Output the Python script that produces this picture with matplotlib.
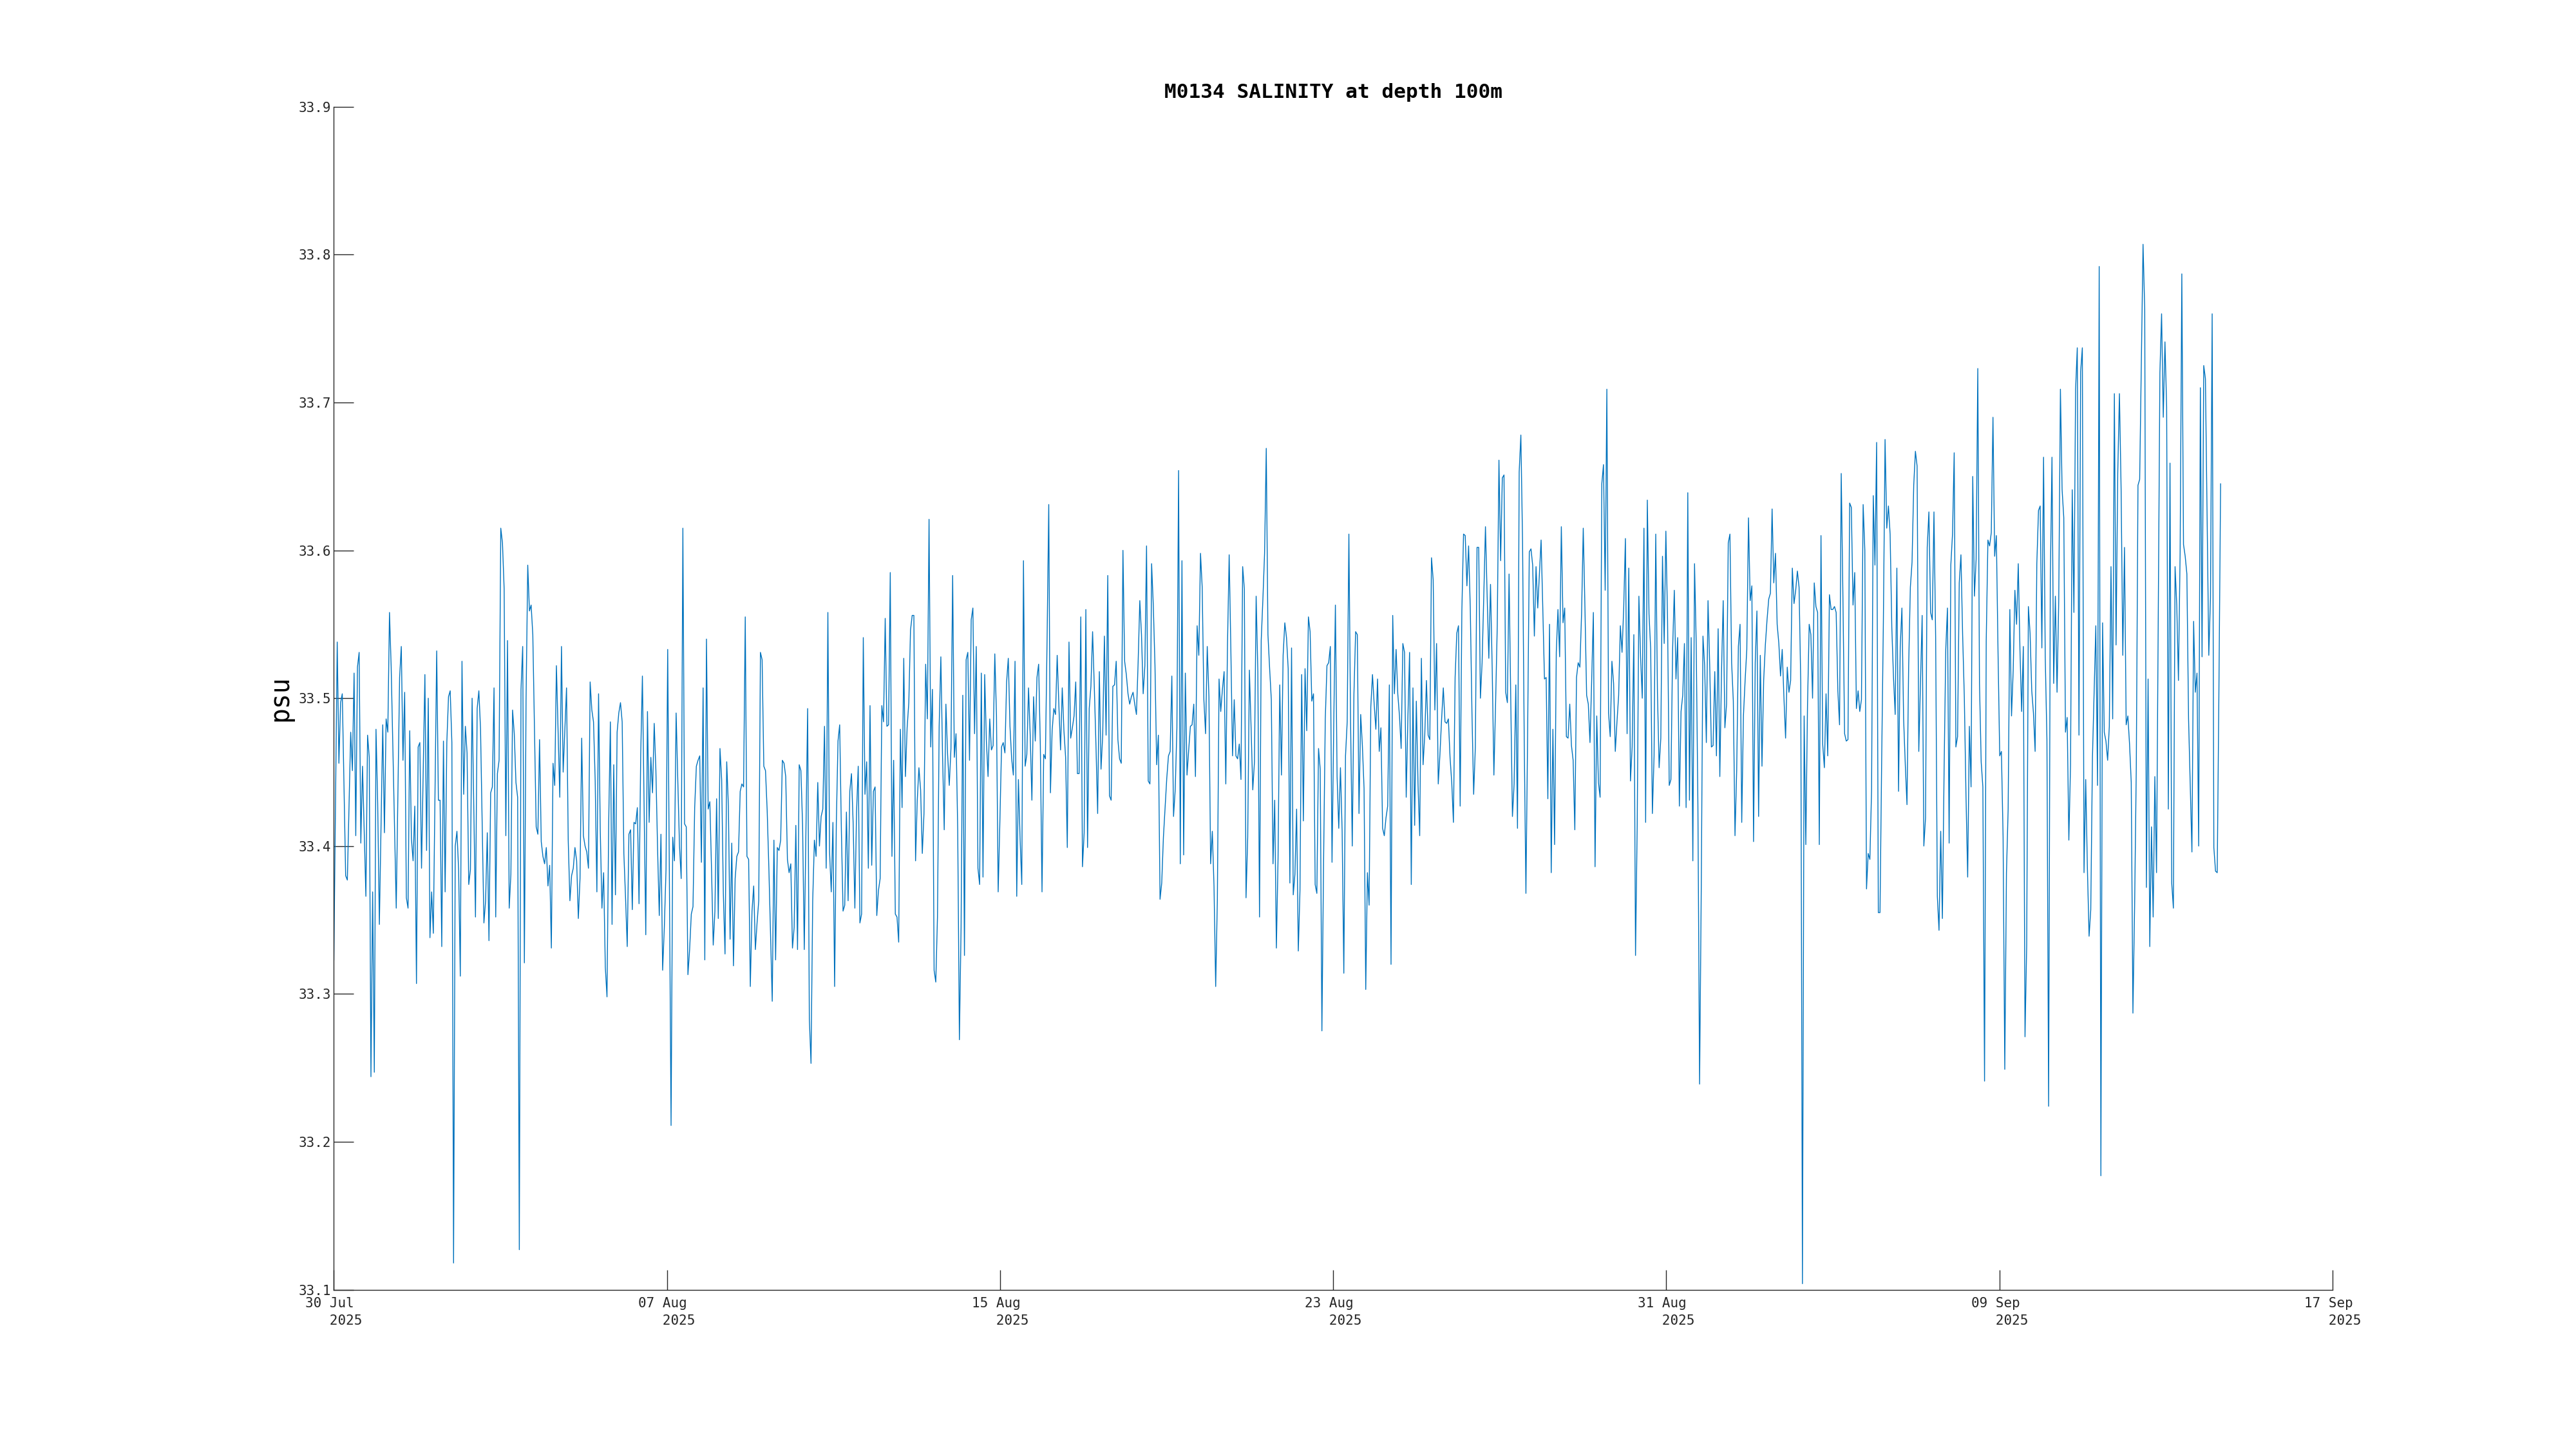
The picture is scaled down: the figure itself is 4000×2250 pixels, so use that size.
import numpy as np
import matplotlib
matplotlib.use("Agg")
import matplotlib.pyplot as plt

# ─────────────────────────────────────────────
# DATA  (hourly salinity, hours counted from 30 Jul 2025 00:00)
# ─────────────────────────────────────────────
TITLE = "M0134 SALINITY at depth 100m"
Y_LABEL = "psu"
DATE_LABELS = ["30 Jul", "07 Aug", "15 Aug", "23 Aug", "31 Aug", "09 Sep", "17 Sep"]
YEAR = "2025"
TICK_STEP_DAYS = 8.232
Y_TICKS = [33.1, 33.2, 33.3, 33.4, 33.5, 33.6, 33.7, 33.8, 33.9]

# first days: only the visible vertices were read
hours_wk1 = [0, 2, 3, 4, 5, 7, 8, 10, 11, 12, 13, 14, 15, 16, 17, 19, 20, 21, 22, 23,
             24, 25, 26, 27, 29, 30, 31, 32, 33, 34, 37, 39, 40, 41, 42, 43, 44, 45, 46, 47,
             48, 49, 50, 51, 52, 54, 55, 56, 57, 58, 59, 61, 62, 63, 64, 65, 66, 67, 68, 69,
             70, 71, 72, 73, 74, 75, 76, 77, 78, 79, 80, 81, 82, 84, 85, 86, 87, 89, 90, 91,
             92, 93, 94, 95, 96, 97, 98, 99, 100, 101, 102, 103, 104, 105, 106, 107, 108, 109, 110, 111,
             112, 113, 114, 115, 116, 117, 118, 120, 121, 122, 123, 124, 125, 126, 127, 128, 129, 130, 131, 132,
             134, 135, 136, 138, 139, 140]
sal_wk1 = [33.323, 33.538, 33.456, 33.497, 33.503, 33.380, 33.377, 33.477, 33.451, 33.517,
           33.407, 33.521, 33.531, 33.402, 33.454, 33.366, 33.475, 33.460, 33.244, 33.369,
           33.247, 33.479, 33.429, 33.347, 33.482, 33.409, 33.486, 33.477, 33.558, 33.521,
           33.358, 33.514, 33.535, 33.458, 33.504, 33.365, 33.358, 33.478, 33.405, 33.390,
           33.427, 33.307, 33.467, 33.470, 33.385, 33.516, 33.397, 33.500, 33.338, 33.369,
           33.341, 33.532, 33.431, 33.431, 33.332, 33.471, 33.369, 33.470, 33.501, 33.505,
           33.470, 33.118, 33.400, 33.410, 33.384, 33.312, 33.525, 33.435, 33.481, 33.463,
           33.374, 33.384, 33.500, 33.352, 33.493, 33.505, 33.479, 33.348, 33.363, 33.409,
           33.336, 33.436, 33.440, 33.507, 33.352, 33.449, 33.458, 33.615, 33.605, 33.574,
           33.407, 33.539, 33.358, 33.381, 33.492, 33.476, 33.443, 33.433, 33.127, 33.506,
           33.535, 33.321, 33.499, 33.590, 33.559, 33.563, 33.543, 33.413, 33.408, 33.472,
           33.403, 33.393, 33.388, 33.399, 33.373, 33.387, 33.331, 33.456, 33.441, 33.522,
           33.433, 33.535, 33.450, 33.507, 33.404, 33.363]

# from hour 141 on every hourly value was read, in blocks of ~6 days
start_wk2 = 141
sal_wk2 = [33.380, 33.385, 33.399, 33.390, 33.351, 33.378, 33.473, 33.407, 33.400, 33.396,
           33.385, 33.511, 33.492, 33.484, 33.444, 33.369, 33.503, 33.411, 33.358, 33.382,
           33.318, 33.298, 33.415, 33.484, 33.347, 33.455, 33.367, 33.477, 33.490, 33.497,
           33.484, 33.395, 33.365, 33.332, 33.408, 33.411, 33.357, 33.416, 33.415, 33.426,
           33.361, 33.462, 33.515, 33.427, 33.340, 33.491, 33.416, 33.460, 33.436, 33.483,
           33.451, 33.398, 33.353, 33.408, 33.316, 33.345, 33.384, 33.533, 33.378, 33.211,
           33.406, 33.390, 33.490, 33.444, 33.400, 33.378, 33.615, 33.415, 33.413, 33.313,
           33.330, 33.354, 33.359, 33.426, 33.454, 33.458, 33.461, 33.389, 33.507, 33.323,
           33.540, 33.425, 33.430, 33.384, 33.333, 33.356, 33.432, 33.351, 33.466, 33.445,
           33.368, 33.327, 33.457, 33.427, 33.337, 33.402, 33.319, 33.378, 33.393, 33.396,
           33.437, 33.442, 33.440, 33.555, 33.393, 33.391, 33.305, 33.356, 33.373, 33.330,
           33.348, 33.363, 33.531, 33.526, 33.454, 33.451, 33.424, 33.385, 33.340, 33.295,
           33.404, 33.323, 33.399, 33.397, 33.404, 33.458, 33.456, 33.447, 33.391, 33.382,
           33.388, 33.331, 33.345, 33.414, 33.330, 33.455, 33.451, 33.414, 33.330, 33.411,
           33.493, 33.283]

start_wk3 = 283
sal_wk3 = [33.253, 33.363, 33.404, 33.393, 33.443, 33.400, 33.420, 33.425, 33.481, 33.385,
           33.558, 33.396, 33.369, 33.416, 33.305, 33.415, 33.471, 33.482, 33.411, 33.356,
           33.360, 33.423, 33.363, 33.437, 33.449, 33.415, 33.358, 33.423, 33.454, 33.348,
           33.354, 33.541, 33.435, 33.457, 33.385, 33.495, 33.387, 33.437, 33.440, 33.353,
           33.370, 33.378, 33.495, 33.484, 33.554, 33.481, 33.482, 33.585, 33.393, 33.458,
           33.354, 33.352, 33.335, 33.479, 33.426, 33.527, 33.447, 33.480, 33.497, 33.546,
           33.556, 33.556, 33.390, 33.431, 33.453, 33.438, 33.395, 33.422, 33.523, 33.486,
           33.621, 33.467, 33.506, 33.316, 33.308, 33.352, 33.481, 33.528, 33.462, 33.411,
           33.496, 33.462, 33.441, 33.466, 33.583, 33.460, 33.476, 33.411, 33.269, 33.345,
           33.502, 33.326, 33.526, 33.531, 33.458, 33.553, 33.561, 33.476, 33.535, 33.385,
           33.374, 33.517, 33.379, 33.516, 33.471, 33.447, 33.486, 33.465, 33.468, 33.530,
           33.488, 33.369, 33.416, 33.467, 33.470, 33.463, 33.511, 33.527, 33.481, 33.459,
           33.448, 33.525, 33.366, 33.445, 33.405, 33.374, 33.593, 33.454, 33.462, 33.507,
           33.475, 33.431, 33.501, 33.471, 33.514, 33.523, 33.468, 33.369, 33.462, 33.459,
           33.539, 33.631]

start_wk4 = 425
sal_wk4 = [33.436, 33.478, 33.493, 33.489, 33.529, 33.495, 33.465, 33.507, 33.478, 33.460,
           33.399, 33.538, 33.473, 33.480, 33.488, 33.511, 33.449, 33.449, 33.555, 33.386,
           33.409, 33.560, 33.399, 33.493, 33.508, 33.545, 33.508, 33.468, 33.422, 33.518,
           33.452, 33.475, 33.542, 33.475, 33.583, 33.434, 33.431, 33.508, 33.509, 33.525,
           33.472, 33.459, 33.456, 33.600, 33.525, 33.516, 33.503, 33.496, 33.501, 33.504,
           33.496, 33.489, 33.524, 33.566, 33.543, 33.503, 33.522, 33.603, 33.444, 33.442,
           33.591, 33.563, 33.522, 33.455, 33.475, 33.364, 33.375, 33.406, 33.426, 33.446,
           33.461, 33.464, 33.515, 33.420, 33.438, 33.480, 33.654, 33.388, 33.593, 33.394,
           33.517, 33.448, 33.465, 33.481, 33.482, 33.496, 33.447, 33.549, 33.529, 33.598,
           33.575, 33.499, 33.476, 33.535, 33.501, 33.388, 33.410, 33.373, 33.305, 33.364,
           33.513, 33.491, 33.506, 33.518, 33.442, 33.536, 33.597, 33.533, 33.461, 33.499,
           33.461, 33.459, 33.469, 33.445, 33.589, 33.574, 33.365, 33.406, 33.519, 33.480,
           33.438, 33.457, 33.569, 33.518, 33.352, 33.539, 33.567, 33.598, 33.669, 33.543,
           33.520, 33.499, 33.388, 33.431, 33.331, 33.392, 33.509, 33.448, 33.529, 33.551,
           33.541]

start_wk5 = 566
sal_wk5 = [33.520, 33.375, 33.534, 33.367, 33.381, 33.425, 33.329, 33.370, 33.516, 33.417,
           33.520, 33.478, 33.555, 33.545, 33.498, 33.503, 33.374, 33.368, 33.466, 33.452,
           33.275, 33.390, 33.486, 33.522, 33.524, 33.535, 33.389, 33.480, 33.563, 33.447,
           33.412, 33.453, 33.410, 33.314, 33.461, 33.484, 33.611, 33.484, 33.400, 33.503,
           33.545, 33.543, 33.422, 33.489, 33.468, 33.439, 33.303, 33.382, 33.360, 33.494,
           33.516, 33.496, 33.479, 33.513, 33.464, 33.480, 33.412, 33.407, 33.419, 33.427,
           33.509, 33.320, 33.556, 33.503, 33.533, 33.503, 33.488, 33.466, 33.537, 33.531,
           33.433, 33.487, 33.531, 33.374, 33.507, 33.414, 33.498, 33.442, 33.407, 33.527,
           33.455, 33.475, 33.512, 33.475, 33.472, 33.595, 33.580, 33.492, 33.537, 33.442,
           33.462, 33.486, 33.507, 33.484, 33.483, 33.486, 33.460, 33.443, 33.416, 33.514,
           33.544, 33.549, 33.427, 33.559, 33.611, 33.610, 33.576, 33.603, 33.561, 33.490,
           33.435, 33.467, 33.602, 33.602, 33.500, 33.524, 33.569, 33.616, 33.569, 33.527,
           33.577, 33.520, 33.448, 33.496, 33.549, 33.661, 33.593, 33.649, 33.651, 33.504,
           33.497, 33.584, 33.499, 33.420, 33.442, 33.509, 33.412, 33.653, 33.678, 33.606,
           33.471]

start_wk6 = 707
sal_wk6 = [33.368, 33.475, 33.599, 33.601, 33.590, 33.542, 33.589, 33.561, 33.584, 33.607,
           33.561, 33.513, 33.514, 33.432, 33.550, 33.382, 33.479, 33.401, 33.531, 33.560,
           33.528, 33.616, 33.551, 33.561, 33.474, 33.473, 33.496, 33.468, 33.458, 33.411,
           33.514, 33.524, 33.521, 33.557, 33.615, 33.561, 33.502, 33.496, 33.470, 33.512,
           33.558, 33.386, 33.488, 33.443, 33.433, 33.645, 33.658, 33.573, 33.709, 33.490,
           33.474, 33.525, 33.510, 33.464, 33.484, 33.502, 33.549, 33.531, 33.561, 33.608,
           33.476, 33.588, 33.444, 33.467, 33.543, 33.326, 33.414, 33.569, 33.528, 33.500,
           33.615, 33.416, 33.634, 33.557, 33.533, 33.422, 33.461, 33.611, 33.504, 33.453,
           33.473, 33.596, 33.537, 33.613, 33.553, 33.441, 33.445, 33.533, 33.573, 33.513,
           33.541, 33.427, 33.491, 33.502, 33.537, 33.426, 33.639, 33.431, 33.541, 33.390,
           33.591, 33.537, 33.427, 33.239, 33.373, 33.542, 33.522, 33.470, 33.566, 33.522,
           33.467, 33.468, 33.518, 33.461, 33.547, 33.447, 33.518, 33.566, 33.480, 33.496,
           33.605, 33.611, 33.524, 33.498, 33.407, 33.451, 33.535, 33.550, 33.416, 33.488,
           33.512, 33.533, 33.622, 33.566, 33.576, 33.403, 33.524, 33.559, 33.420, 33.529,
           33.454, 33.512]

start_wk7 = 849
sal_wk7 = [33.536, 33.553, 33.567, 33.571, 33.628, 33.578, 33.598, 33.550, 33.537, 33.515,
           33.533, 33.501, 33.473, 33.521, 33.504, 33.512, 33.588, 33.564, 33.573, 33.586,
           33.575, 33.510, 33.104, 33.488, 33.401, 33.495, 33.550, 33.543, 33.500, 33.578,
           33.562, 33.558, 33.401, 33.610, 33.469, 33.453, 33.503, 33.461, 33.570, 33.560,
           33.560, 33.562, 33.558, 33.505, 33.482, 33.652, 33.569, 33.476, 33.471, 33.472,
           33.632, 33.629, 33.563, 33.585, 33.493, 33.505, 33.491, 33.499, 33.631, 33.600,
           33.371, 33.395, 33.391, 33.438, 33.637, 33.590, 33.673, 33.355, 33.355, 33.459,
           33.552, 33.675, 33.615, 33.630, 33.611, 33.548, 33.514, 33.489, 33.588, 33.437,
           33.535, 33.561, 33.486, 33.455, 33.428, 33.522, 33.575, 33.592, 33.644, 33.667,
           33.657, 33.464, 33.510, 33.556, 33.400, 33.419, 33.602, 33.626, 33.558, 33.553,
           33.626, 33.541, 33.366, 33.343, 33.410, 33.351, 33.450, 33.533, 33.561, 33.402,
           33.590, 33.611, 33.666, 33.467, 33.474, 33.578, 33.597, 33.543, 33.501, 33.434,
           33.379, 33.481, 33.440, 33.650, 33.569, 33.594, 33.723, 33.510, 33.457, 33.440,
           33.241, 33.539, 33.607, 33.603, 33.612, 33.690, 33.596, 33.610, 33.531, 33.461,
           33.464]

start_wk8 = 990
sal_wk8 = [33.406, 33.249, 33.382, 33.425, 33.560, 33.488, 33.519, 33.573, 33.550, 33.591,
           33.533, 33.491, 33.535, 33.271, 33.333, 33.562, 33.544, 33.505, 33.490, 33.464,
           33.591, 33.627, 33.630, 33.534, 33.663, 33.528, 33.472, 33.224, 33.580, 33.663,
           33.510, 33.569, 33.504, 33.566, 33.709, 33.641, 33.622, 33.477, 33.487, 33.404,
           33.455, 33.641, 33.558, 33.709, 33.737, 33.475, 33.721, 33.737, 33.382, 33.445,
           33.385, 33.339, 33.357, 33.460, 33.505, 33.549, 33.441, 33.792, 33.177, 33.551,
           33.477, 33.471, 33.458, 33.481, 33.589, 33.486, 33.706, 33.536, 33.652, 33.706,
           33.641, 33.529, 33.602, 33.482, 33.488, 33.469, 33.443, 33.287, 33.359, 33.453,
           33.644, 33.648, 33.727, 33.807, 33.763, 33.372, 33.513, 33.332, 33.413, 33.352,
           33.447, 33.382, 33.551, 33.720, 33.760, 33.690, 33.741, 33.697, 33.425, 33.659,
           33.375, 33.358, 33.589, 33.563, 33.512, 33.599, 33.787, 33.604, 33.596, 33.584,
           33.486, 33.441, 33.396, 33.552, 33.504, 33.517, 33.400, 33.710, 33.528, 33.725,
           33.716, 33.622, 33.529, 33.568, 33.760, 33.399, 33.383, 33.382, 33.505, 33.645]

# ─────────────────────────────────────────────
# Assemble the hourly series
# ─────────────────────────────────────────────
assert len(hours_wk1) == len(sal_wk1)
hours = list(hours_wk1)
sal = list(sal_wk1)
for start, block in [(start_wk2, sal_wk2), (start_wk3, sal_wk3), (start_wk4, sal_wk4),
                     (start_wk5, sal_wk5), (start_wk6, sal_wk6), (start_wk7, sal_wk7),
                     (start_wk8, sal_wk8)]:
    hours += list(range(start, start + len(block)))
    sal += block
days = np.array(hours) / 24.0
sal = np.array(sal)

# ─────────────────────────────────────────────
# Plot (MATLAB-like look)
# ─────────────────────────────────────────────
MONO = ["DejaVu Sans Mono"]
AX_COL = "#262626"

fig = plt.figure(figsize=(40, 22.5), dpi=100)
ax = fig.add_axes([0.1296, 0.110, 0.7759, 0.8163])

ax.plot(days, sal, color="#0072BD", linewidth=1.0)

ax.set_xlim(0, 6 * TICK_STEP_DAYS)
ax.set_ylim(Y_TICKS[0], Y_TICKS[-1])

ax.set_xticks(np.arange(len(DATE_LABELS)) * TICK_STEP_DAYS)
ax.set_xticklabels([f"{d}\n   {YEAR}" for d in DATE_LABELS])
ax.set_yticks(Y_TICKS)
ax.set_yticklabels([f"{t:.1f}" for t in Y_TICKS])

for lab in ax.get_xticklabels() + ax.get_yticklabels():
    lab.set_family(MONO)
    lab.set_fontsize(15)
    lab.set_color(AX_COL)
for lab in ax.get_xticklabels():
    lab.set_multialignment("left")
    lab.set_linespacing(1.45)

ax.tick_params(axis="both", direction="in", length=22, width=1.0, color=AX_COL)
ax.tick_params(axis="x", pad=8)
ax.tick_params(axis="y", pad=3)

for side in ["top", "right"]:
    ax.spines[side].set_visible(False)
for side in ["left", "bottom"]:
    ax.spines[side].set_color(AX_COL)
    ax.spines[side].set_linewidth(1.0)

ax.set_title(TITLE, family=MONO, fontsize=22.4, fontweight="bold", pad=10)
ax.set_ylabel(Y_LABEL, family=MONO, fontsize=28.5, labelpad=6)

fig.savefig("out.png", dpi=100, facecolor="white")
